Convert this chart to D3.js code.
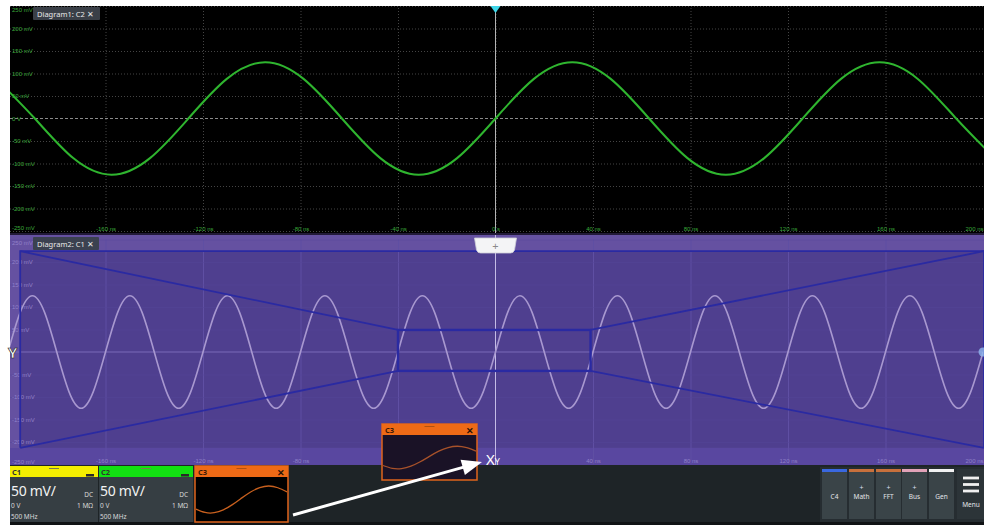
<!DOCTYPE html>
<html><head><meta charset="utf-8">
<script src="https://cdn.jsdelivr.net/npm/d3@7"></script>
<style>
html,body{margin:0;padding:0;background:#fff;}
svg{display:block;font-family:"Noto Sans","Open Sans",sans-serif;}
</style></head><body>
<svg id="chart" width="984" height="525"></svg>
<script>
// ---------- data ----------
const timeTicks = [-160, -120, -80, -40, 0, 40, 80, 120, 160, 200];
const timeTickLabels = ["-160 ns", "-120 ns", "-80 ns", "-40 ns", "0 s", "40 ns", "80 ns", "120 ns", "160 ns", "200 ns"];
const voltTicks = [250, 200, 150, 100, 50, 0, -50, -100, -150, -200, -250];
const voltTickLabels = ["250 mV", "200 mV", "150 mV", "100 mV", "50 mV", "0 V", "-50 mV", "-100 mV", "-150 mV", "-200 mV", "-250 mV"];

// Diagram1: C2 (green) — time in ns, volts in mV
const c2Time = [-204.75, -189, -173.25, -157.5, -141.75, -126, -110.25, -94.5, -78.75, -63, -47.25, -31.5, -15.75, 0,
  15.75, 31.5, 47.25, 63, 78.75, 94.5, 110.25, 126, 141.75, 157.5, 173.25, 189, 204.75];
const c2Volt = [88, 0, -88, -125, -88, 0, 88, 125, 88, 0, -88, -125, -88, 0,
  88, 125, 88, 0, -88, -125, -88, 0, 88, 125, 88, 0, -88];

// Diagram2: C1 (lavender) — time in ns, volts in mV
const c1Time = [-200, -195, -190, -185, -180, -175, -170, -165, -160, -155, -150, -145, -140, -135, -130, -125,
  -120, -115, -110, -105, -100, -95, -90, -85, -80, -75, -70, -65, -60, -55, -50, -45, -40, -35, -30, -25,
  -20, -15, -10, -5, 0, 5, 10, 15, 20, 25, 30, 35, 40, 45, 50, 55, 60, 65, 70, 75, 80, 85, 90, 95, 100,
  105, 110, 115, 120, 125, 130, 135, 140, 145, 150, 155, 160, 165, 170, 175, 180, 185, 190, 195, 200];
const c1Volt = [0, 88, 125, 88, 0, -88, -125, -88, 0, 88, 125, 88, 0, -88, -125, -88,
  0, 88, 125, 88, 0, -88, -125, -88, 0, 88, 125, 88, 0, -88, -125, -88, 0, 88, 125, 88,
  0, -88, -125, -88, 0, 88, 125, 88, 0, -88, -125, -88, 0, 88, 125, 88, 0, -88, -125, -88, 0,
  88, 125, 88, 0, -88, -125, -88, 0, 88, 125, 88, 0, -88, -125, -88, 0, 88, 125, 88, 0, -88, -125, -88, 0];

// zoom indication (ns / mV in Diagram2)
const zoomOuterT = [-195, 200];
const zoomOuterV = [-213, 224];
const zoomBoxT = [-40, 39];
const zoomBoxV = [-42, 49];

// C3 thumbnail (normalised position / amplitude)
const c3ThumbX = [0, 0.1, 0.2, 0.3, 0.4, 0.5, 0.6, 0.7, 0.8, 0.9, 1.0];
const c3ThumbV = [-0.71, -0.96, -0.98, -0.77, -0.38, 0.10, 0.56, 0.88, 1.0, 0.87, 0.56];

// channel tabs
const channelNames = ["C1", "C2"];
const channelColors = ["#f4ee00", "#12e012"];
const channelScale = ["50 mV/", "50 mV/"];
const channelOffset = ["0 V", "0 V"];
const channelCoupling = ["DC", "DC"];
const channelImpedance = ["1 M\u03A9", "1 M\u03A9"];
const channelBandwidth = ["500 MHz", "500 MHz"];

const buttonNames = ["C4", "Math", "FFT", "Bus", "Gen"];
const buttonPlus = [false, true, true, true, false];
const buttonColors = ["#3a68e0", "#c8703c", "#c8703c", "#e2a2b8", "#f2f2f2"];

// ---------- drawing ----------
const svg = d3.select("#chart");
const defs = svg.append("defs");

const xScale = d3.scaleLinear().domain([-200, 200]).range([8, 983]);
const yTop = d3.scaleLinear().domain([-250, 250]).range([231, 6]);
const yBot = d3.scaleLinear().domain([-250, 250]).range([464.5, 239.5]);

const gridTimes = timeTicks.filter(t => t !== 200);

function panel(id, y0, y1, bg) {
  defs.append("clipPath").attr("id", id).append("rect")
    .attr("x", 10).attr("y", y0).attr("width", 974).attr("height", y1 - y0);
  const g = svg.append("g").attr("clip-path", `url(#${id})`);
  g.append("rect").attr("x", 10).attr("y", y0).attr("width", 974).attr("height", y1 - y0).attr("fill", bg);
  return g;
}

// ===== Diagram 1 =====
const g1 = panel("clipTop", 6, 234, "#000");
g1.append("g").attr("transform", "translate(0,231)")
  .call(d3.axisBottom(xScale).tickValues(gridTimes).tickSize(-225).tickFormat(""))
  .call(g => g.select(".domain").remove())
  .selectAll("line").attr("stroke", "#444").attr("stroke-dasharray", "1 2");
g1.append("g").attr("transform", "translate(10,0)")
  .call(d3.axisLeft(yTop).tickValues(voltTicks.filter(v => v !== 0)).tickSize(-974).tickFormat(""))
  .call(g => g.select(".domain").remove())
  .selectAll("line").attr("stroke", "#444").attr("stroke-dasharray", "1 2");
g1.append("line").attr("x1", 10).attr("x2", 984).attr("y1", yTop(0)).attr("y2", yTop(0))
  .attr("stroke", "#8a8a8a").attr("stroke-dasharray", "3 2").attr("stroke-width", 1);
g1.append("line").attr("x1", xScale(0)).attr("x2", xScale(0)).attr("y1", 6).attr("y2", 234)
  .attr("stroke", "#b4b4b4").attr("stroke-width", 1);
g1.append("g").attr("transform", "translate(12,0)")
  .call(d3.axisRight(yTop).tickValues(voltTicks).tickSize(0).tickFormat((d, i) => voltTickLabels[i]))
  .call(g => g.select(".domain").remove())
  .selectAll("text").attr("fill", "#3aa83a").attr("font-size", 6).attr("x", 0)
  .attr("dy", (d) => d === 250 ? "0.9em" : (d === -250 ? "-0.2em" : "0.32em"));
g1.append("g").attr("transform", "translate(0,224)")
  .call(d3.axisBottom(xScale).tickValues(timeTicks).tickSize(0).tickFormat((d, i) => timeTickLabels[i]))
  .call(g => g.select(".domain").remove())
  .selectAll("text").attr("fill", "#3aa83a").attr("font-size", 6)
  .attr("text-anchor", d => d === 200 ? "end" : "middle");
const lineTop = d3.line().x((d, i) => xScale(c2Time[i])).y(d => yTop(d)).curve(d3.curveNatural);
g1.append("path").attr("d", lineTop(c2Volt)).attr("fill", "none")
  .attr("stroke", "#2fb52f").attr("stroke-width", 2);
g1.append("rect").attr("x", 33).attr("y", 7).attr("width", 67).attr("height", 13).attr("rx", 1).attr("fill", "#3a3f47");
g1.append("text").attr("x", 37).attr("y", 16.5).attr("fill", "#e8e8e8").attr("font-size", 7.5).text("Diagram1: C2 \u2715");
svg.append("path").attr("d", d3.line()([[xScale(0) - 5, 6], [xScale(0) + 5, 6], [xScale(0), 13]]) + "Z")
  .attr("fill", "#3fd6e8");

svg.append("rect").attr("x", 10).attr("y", 233).attr("width", 974).attr("height", 2).attr("fill", "#221a38");

// ===== Diagram 2 =====
const g2 = panel("clipBot", 235, 465, "#6551a1");
g2.append("rect").attr("x", 10).attr("y", 448).attr("width", 974).attr("height", 17).attr("fill", "#5947a0");
g2.append("rect")
  .attr("x", xScale(zoomOuterT[0])).attr("y", yBot(zoomOuterV[1]))
  .attr("width", xScale(zoomOuterT[1]) - xScale(zoomOuterT[0]) + 2)
  .attr("height", yBot(zoomOuterV[0]) - yBot(zoomOuterV[1]))
  .attr("fill", "#4f3f8f");
g2.append("g").attr("transform", "translate(0,464.5)")
  .call(d3.axisBottom(xScale).tickValues(gridTimes.filter(t => t !== 0)).tickSize(-225).tickFormat(""))
  .call(g => g.select(".domain").remove())
  .selectAll("line").attr("stroke", "#5f4fa3").attr("stroke-width", 1);
g2.append("g").attr("transform", "translate(10,0)")
  .call(d3.axisLeft(yBot).tickValues(voltTicks.filter(v => v !== 0)).tickSize(-974).tickFormat(""))
  .call(g => g.select(".domain").remove())
  .selectAll("line").attr("stroke", "#554597").attr("stroke-width", 0.8).attr("stroke-opacity", 0.6);
g2.append("line").attr("x1", 10).attr("x2", 984).attr("y1", yBot(0)).attr("y2", yBot(0))
  .attr("stroke", "#7a6ab8").attr("stroke-width", 1);
g2.append("line").attr("x1", xScale(0)).attr("x2", xScale(0)).attr("y1", 235).attr("y2", 465)
  .attr("stroke", "#c4bce6").attr("stroke-width", 1);
// tick labels (the 0 labels sit under the Y / XY markers in the reference)
g2.append("g").attr("transform", "translate(12,0)")
  .call(d3.axisRight(yBot).tickValues(voltTicks.filter(v => v !== 0)).tickSize(0)
    .tickFormat(d => voltTickLabels[voltTicks.indexOf(d)]))
  .call(g => g.select(".domain").remove())
  .selectAll("text").attr("fill", "#9080c8").attr("font-size", 6).attr("x", 0)
  .attr("dy", (d) => d === 250 ? "0.9em" : (d === -250 ? "-0.2em" : "0.32em"));
g2.append("g").attr("transform", "translate(0,456)")
  .call(d3.axisBottom(xScale).tickValues(timeTicks.filter(t => t !== 0)).tickSize(0)
    .tickFormat(d => timeTickLabels[timeTicks.indexOf(d)]))
  .call(g => g.select(".domain").remove())
  .selectAll("text").attr("fill", "#9080c8").attr("font-size", 6)
  .attr("text-anchor", d => d === 200 ? "end" : "middle");
const lineBot = d3.line().x((d, i) => xScale(c1Time[i])).y(d => yBot(d)).curve(d3.curveNatural);
g2.append("path").attr("d", lineBot(c1Volt)).attr("fill", "none")
  .attr("stroke", "#a898d0").attr("stroke-width", 1.6);
const blue = "#2a2aa2";
const oL = xScale(zoomOuterT[0]), oR = xScale(zoomOuterT[1]) + 1, oT = yBot(zoomOuterV[1]), oB = yBot(zoomOuterV[0]);
const bL = xScale(zoomBoxT[0]), bR = xScale(zoomBoxT[1]), bT = yBot(zoomBoxV[1]), bB = yBot(zoomBoxV[0]);
const zl = g2.append("g").attr("stroke", blue).attr("stroke-width", 1.8).attr("fill", "none");
zl.append("path").attr("d", d3.line()([[oL, oB], [oL, oT], [oR, oT], [oR, oB]]));
zl.append("path").attr("d", d3.line()([[oL, oT], [bL, bT]]));
zl.append("path").attr("d", d3.line()([[oL, oB], [bL, bB]]));
zl.append("path").attr("d", d3.line()([[oR, oT], [bR, bT]]));
zl.append("path").attr("d", d3.line()([[oR, oB], [bR, bB]]));
zl.append("rect").attr("x", bL).attr("y", bT).attr("width", bR - bL).attr("height", bB - bT).attr("stroke-width", 2.4);
g2.append("rect").attr("x", 33).attr("y", 237).attr("width", 66).attr("height", 13).attr("rx", 1).attr("fill", "#3b4150");
g2.append("text").attr("x", 37).attr("y", 246.5).attr("fill", "#e8e8e8").attr("font-size", 7.5).text("Diagram2: C1 \u2715");
const cx = xScale(0);
g2.append("path").attr("d", `M${cx - 21},238 L${cx + 21},238 L${cx + 19},250 Q${cx + 18},253 ${cx + 15},253 L${cx - 15},253 Q${cx - 18},253 ${cx - 19},250 Z`)
  .attr("fill", "#f4f4f6").attr("stroke", "#cfcfd8").attr("stroke-width", 0.8);
g2.append("text").attr("x", cx).attr("y", 249.5).attr("text-anchor", "middle").attr("fill", "#8a8a8a")
  .attr("font-size", 11).text("+");
svg.append("text").attr("x", 8).attr("y", yBot(0) + 6).attr("fill", "#fff").attr("stroke", "#222").attr("stroke-width", 0.6)
  .attr("font-size", 15).attr("font-weight", "bold").text("Y");
svg.append("circle").attr("cx", 983).attr("cy", yBot(0)).attr("r", 4.5).attr("fill", "#8fb6ee").attr("opacity", 0.8);

// ===== bottom bar =====
svg.append("rect").attr("x", 10).attr("y", 465).attr("width", 974).attr("height", 60).attr("fill", "#1e2427");
svg.append("rect").attr("x", 10).attr("y", 522).attr("width", 974).attr("height", 3).attr("fill", "#101315");

const tabX = [10, 99];
const tabW = [88, 94];
channelNames.forEach((name, i) => {
  const g = svg.append("g").attr("transform", `translate(${tabX[i]},466)`);
  g.append("rect").attr("width", tabW[i]).attr("height", 11).attr("fill", channelColors[i]);
  g.append("rect").attr("y", 11).attr("width", tabW[i]).attr("height", 45).attr("fill", "#363e43");
  g.append("text").attr("x", 2).attr("y", 9).attr("font-size", 7.5).attr("font-weight", "bold").attr("fill", "#333").text(name);
  g.append("rect").attr("x", tabW[i] / 2 - 5).attr("y", 2).attr("width", 10).attr("height", 1).attr("fill", "#7a7a50");
  g.append("rect").attr("x", tabW[i] - 12).attr("y", 8).attr("width", 8).attr("height", 2.5).attr("fill", "#2a2a2a");
  g.append("text").attr("x", 1).attr("y", 30).attr("font-size", 14).attr("fill", "#f2f2f2").attr("letter-spacing", -0.3).text(channelScale[i]);
  g.append("text").attr("x", tabW[i] - 5).attr("y", 31).attr("text-anchor", "end").attr("font-size", 6.5).attr("fill", "#d8d8d8").text(channelCoupling[i]);
  g.append("text").attr("x", 1).attr("y", 42).attr("font-size", 6.5).attr("fill", "#d8d8d8").text(channelOffset[i]);
  g.append("text").attr("x", tabW[i] - 5).attr("y", 42).attr("text-anchor", "end").attr("font-size", 6.5).attr("fill", "#d8d8d8").text(channelImpedance[i]);
  g.append("text").attr("x", 1).attr("y", 53).attr("font-size", 6.5).attr("fill", "#d8d8d8").text(channelBandwidth[i]);
});

function thumb(x0, y0, w, h, bodyFill, curveColor, ampFrac) {
  const g = svg.append("g").attr("transform", `translate(${x0},${y0})`);
  g.append("rect").attr("width", w).attr("height", h).attr("fill", bodyFill).attr("stroke", "#e0641c").attr("stroke-width", 1.5);
  g.append("rect").attr("width", w).attr("height", 11).attr("fill", "#ee6a16");
  g.append("text").attr("x", 3).attr("y", 9).attr("font-size", 7.5).attr("font-weight", "bold").attr("fill", "#3a1a08").text("C3");
  g.append("text").attr("x", w - 3).attr("y", 9.5).attr("text-anchor", "end").attr("font-size", 9).attr("font-weight", "bold").attr("fill", "#2a1206").text("\u2715");
  g.append("rect").attr("x", w / 2 - 5).attr("y", 2).attr("width", 10).attr("height", 1).attr("fill", "#b05010");
  const tx = d3.scaleLinear().domain([0, 1]).range([1, w - 1]);
  const ty = d3.scaleLinear().domain([-1, 1]).range([11 + (h - 11) * (0.5 + ampFrac), 11 + (h - 11) * (0.5 - ampFrac)]);
  const ln = d3.line().x((d, i) => tx(c3ThumbX[i])).y(d => ty(d)).curve(d3.curveNatural);
  g.append("path").attr("d", ln(c3ThumbV)).attr("fill", "none").attr("stroke", curveColor).attr("stroke-width", 1.3);
}
thumb(195, 466, 93, 56, "#000", "#c8601e", 0.3);

svg.append("rect").attr("x", 820).attr("y", 467).attr("width", 164).attr("height", 55).attr("fill", "#262d31");
const btnX = [822, 849, 876, 902, 929];
buttonNames.forEach((name, i) => {
  const g = svg.append("g").attr("transform", `translate(${btnX[i]},469)`);
  g.append("rect").attr("width", 25).attr("height", 50).attr("fill", "#3a4448");
  g.append("rect").attr("width", 25).attr("height", 3).attr("fill", buttonColors[i]);
  if (buttonPlus[i]) g.append("text").attr("x", 12.5).attr("y", 21).attr("text-anchor", "middle").attr("font-size", 7).attr("fill", "#dde").text("+");
  g.append("text").attr("x", 12.5).attr("y", 30).attr("text-anchor", "middle").attr("font-size", 6.5).attr("fill", "#e4e4e8").text(name);
});
const mg = svg.append("g").attr("transform", "translate(957,469)");
mg.append("rect").attr("width", 27).attr("height", 50).attr("fill", "#2c3438");
[9, 15.5, 22].forEach(y => mg.append("rect").attr("x", 6).attr("y", y - 1.4).attr("width", 16).attr("height", 2.8).attr("fill", "#f0f0f0"));
mg.append("text").attr("x", 14).attr("y", 38).attr("text-anchor", "middle").attr("font-size", 6.5).attr("fill", "#e4e4e8").text("Menu");

thumb(382, 424, 95, 56, "#1a1226", "#a8522a", 0.25);

const a0 = [293, 515], tip = [482, 462];
const dx = tip[0] - a0[0], dy = tip[1] - a0[1], L = Math.hypot(dx, dy);
const ux = dx / L, uy = dy / L, hl = 20, hw = 8;
const base = [tip[0] - ux * hl, tip[1] - uy * hl];
svg.append("line").attr("x1", a0[0]).attr("y1", a0[1]).attr("x2", base[0] + ux * 2).attr("y2", base[1] + uy * 2)
  .attr("stroke", "#fff").attr("stroke-width", 3);
svg.append("path").attr("d", d3.line()([tip, [base[0] - uy * hw, base[1] + ux * hw], [base[0] + uy * hw, base[1] - ux * hw]]) + "Z")
  .attr("fill", "#fff");

const xy = svg.append("text").attr("x", 486).attr("y", 465).attr("fill", "#fff");
xy.append("tspan").attr("font-size", 15).text("X");
xy.append("tspan").attr("font-size", 9).text("Y");
</script>
</body></html>
